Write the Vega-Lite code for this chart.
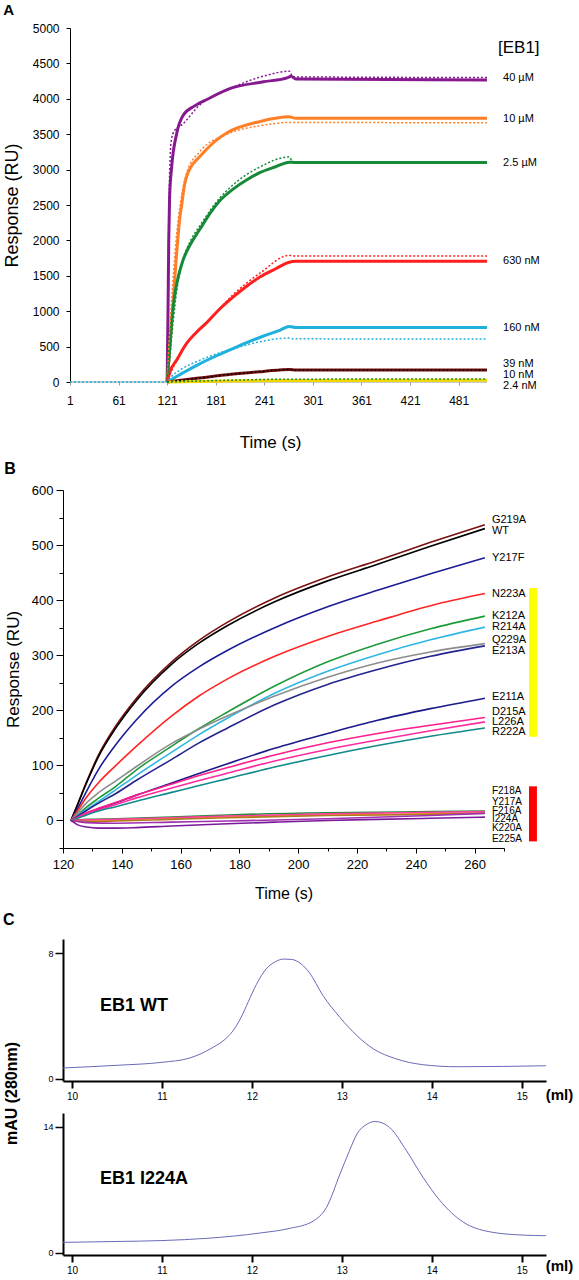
{
  "$schema": "https://vega.github.io/schema/vega-lite/v6.json",
  "background": "white",
  "padding": {"left": 3, "top": 3, "right": 0, "bottom": 0},
  "config": {
    "view": {"stroke": null},
    "font": "Liberation Sans",
    "axis": {"grid": false, "labelColor": "#000", "titleColor": "#000", "domainColor": "#000", "tickColor": "#000", "labelFont": "Liberation Sans", "titleFont": "Liberation Sans", "labelFlush": false, "labelOverlap": false},
    "title": {"font": "Liberation Sans", "fontWeight": "bold", "anchor": "start", "frame": "bounds", "color": "#000"},
    "text": {"font": "Liberation Sans", "color": "#000"}
  },
  "spacing": 11,
  "align": "none",
  "datasets": {
    "A_solid": [
      {"s":"40 µM","t":121,"v":0},{"s":"40 µM","t":122,"v":900},{"s":"40 µM","t":123,"v":2000},{"s":"40 µM","t":124,"v":2600},{"s":"40 µM","t":126.6,"v":3040},{"s":"40 µM","t":132.8,"v":3510},{"s":"40 µM","t":141,"v":3770},{"s":"40 µM","t":155,"v":3900},{"s":"40 µM","t":170,"v":3990},{"s":"40 µM","t":200,"v":4150},{"s":"40 µM","t":240,"v":4240},{"s":"40 µM","t":270,"v":4300},{"s":"40 µM","t":274,"v":4320},{"s":"40 µM","t":280,"v":4280},{"s":"40 µM","t":516,"v":4266},
      {"s":"10 µM","t":121,"v":0},{"s":"10 µM","t":123,"v":300},{"s":"10 µM","t":126,"v":750},{"s":"10 µM","t":128.6,"v":1160},{"s":"10 µM","t":131,"v":1550},{"s":"10 µM","t":134.8,"v":2100},{"s":"10 µM","t":137,"v":2350},{"s":"10 µM","t":139,"v":2500},{"s":"10 µM","t":142,"v":2750},{"s":"10 µM","t":145,"v":2900},{"s":"10 µM","t":150,"v":3030},{"s":"10 µM","t":161,"v":3180},{"s":"10 µM","t":180,"v":3400},{"s":"10 µM","t":195,"v":3520},{"s":"10 µM","t":236,"v":3680},{"s":"10 µM","t":272,"v":3745},{"s":"10 µM","t":280,"v":3725},{"s":"10 µM","t":516,"v":3725},
      {"s":"2.5 µM","t":121,"v":0},{"s":"2.5 µM","t":124,"v":450},{"s":"2.5 µM","t":127,"v":900},{"s":"2.5 µM","t":130,"v":1200},{"s":"2.5 µM","t":135,"v":1500},{"s":"2.5 µM","t":140,"v":1700},{"s":"2.5 µM","t":150,"v":1950},{"s":"2.5 µM","t":161,"v":2150},{"s":"2.5 µM","t":175,"v":2400},{"s":"2.5 µM","t":186,"v":2560},{"s":"2.5 µM","t":202,"v":2720},{"s":"2.5 µM","t":220,"v":2860},{"s":"2.5 µM","t":236,"v":2960},{"s":"2.5 µM","t":255,"v":3040},{"s":"2.5 µM","t":272,"v":3105},{"s":"2.5 µM","t":280,"v":3100},{"s":"2.5 µM","t":516,"v":3100},
      {"s":"630 nM","t":121,"v":0},{"s":"630 nM","t":124.5,"v":146},{"s":"630 nM","t":132.8,"v":311},{"s":"630 nM","t":145,"v":546},{"s":"630 nM","t":157,"v":700},{"s":"630 nM","t":170,"v":840},{"s":"630 nM","t":185,"v":1020},{"s":"630 nM","t":203,"v":1205},{"s":"630 nM","t":220,"v":1360},{"s":"630 nM","t":236,"v":1487},{"s":"630 nM","t":255,"v":1600},{"s":"630 nM","t":270,"v":1685},{"s":"630 nM","t":280,"v":1705},{"s":"630 nM","t":516,"v":1705},
      {"s":"160 nM","t":121,"v":0},{"s":"160 nM","t":130,"v":60},{"s":"160 nM","t":140,"v":125},{"s":"160 nM","t":160,"v":250},{"s":"160 nM","t":180,"v":360},{"s":"160 nM","t":203,"v":476},{"s":"160 nM","t":220,"v":560},{"s":"160 nM","t":240,"v":650},{"s":"160 nM","t":260,"v":730},{"s":"160 nM","t":272,"v":785},{"s":"160 nM","t":280,"v":770},{"s":"160 nM","t":516,"v":770},
      {"s":"39 nM","t":121,"v":0},{"s":"39 nM","t":160,"v":55},{"s":"39 nM","t":200,"v":110},{"s":"39 nM","t":240,"v":150},{"s":"39 nM","t":272,"v":178},{"s":"39 nM","t":280,"v":170},{"s":"39 nM","t":516,"v":170},
      {"s":"2.4 nM","t":121,"v":0},{"s":"2.4 nM","t":200,"v":14},{"s":"2.4 nM","t":272,"v":22},{"s":"2.4 nM","t":516,"v":26}
    ],
    "A_fit": [
      {"s":"40 µM","t":121,"v":0},{"s":"40 µM","t":122,"v":1200},{"s":"40 µM","t":123,"v":2200},{"s":"40 µM","t":124,"v":2900},{"s":"40 µM","t":126,"v":3400},{"s":"40 µM","t":130,"v":3550},{"s":"40 µM","t":140,"v":3640},{"s":"40 µM","t":160,"v":3900},{"s":"40 µM","t":200,"v":4150},{"s":"40 µM","t":240,"v":4320},{"s":"40 µM","t":272,"v":4390},{"s":"40 µM","t":276,"v":4310},{"s":"40 µM","t":516,"v":4300},
      {"s":"10 µM","t":121,"v":0},{"s":"10 µM","t":124,"v":700},{"s":"10 µM","t":128,"v":1400},{"s":"10 µM","t":132,"v":2000},{"s":"10 µM","t":137,"v":2500},{"s":"10 µM","t":145,"v":2950},{"s":"10 µM","t":161,"v":3250},{"s":"10 µM","t":195,"v":3500},{"s":"10 µM","t":236,"v":3620},{"s":"10 µM","t":272,"v":3665},{"s":"10 µM","t":516,"v":3660},
      {"s":"2.5 µM","t":121,"v":0},{"s":"2.5 µM","t":124,"v":300},{"s":"2.5 µM","t":128,"v":800},{"s":"2.5 µM","t":133,"v":1300},{"s":"2.5 µM","t":140,"v":1700},{"s":"2.5 µM","t":150,"v":2000},{"s":"2.5 µM","t":161,"v":2200},{"s":"2.5 µM","t":186,"v":2600},{"s":"2.5 µM","t":202,"v":2780},{"s":"2.5 µM","t":236,"v":3040},{"s":"2.5 µM","t":272,"v":3180},{"s":"2.5 µM","t":276,"v":3100},{"s":"2.5 µM","t":516,"v":3090},
      {"s":"630 nM","t":121,"v":0},{"s":"630 nM","t":125,"v":120},{"s":"630 nM","t":133,"v":300},{"s":"630 nM","t":145,"v":540},{"s":"630 nM","t":170,"v":830},{"s":"630 nM","t":203,"v":1240},{"s":"630 nM","t":236,"v":1540},{"s":"630 nM","t":272,"v":1790},{"s":"630 nM","t":276,"v":1780},{"s":"630 nM","t":516,"v":1780},
      {"s":"160 nM","t":1,"v":0},{"s":"160 nM","t":121,"v":0},{"s":"160 nM","t":125,"v":60},{"s":"160 nM","t":137,"v":170},{"s":"160 nM","t":160,"v":300},{"s":"160 nM","t":180,"v":390},{"s":"160 nM","t":203,"v":470},{"s":"160 nM","t":236,"v":570},{"s":"160 nM","t":272,"v":620},{"s":"160 nM","t":276,"v":610},{"s":"160 nM","t":516,"v":607},
      {"s":"39 nM fit","t":121,"v":0},{"s":"39 nM fit","t":160,"v":55},{"s":"39 nM fit","t":200,"v":108},{"s":"39 nM fit","t":240,"v":150},{"s":"39 nM fit","t":272,"v":176},{"s":"39 nM fit","t":280,"v":168},{"s":"39 nM fit","t":516,"v":168},
      {"s":"10 nM","t":121,"v":0},{"s":"10 nM","t":200,"v":25},{"s":"10 nM","t":272,"v":40},{"s":"10 nM","t":516,"v":42}
    ],
    "B_lines": [
      {"s":"G219A","t":122.7,"v":0},{"s":"G219A","t":125,"v":30},{"s":"G219A","t":128,"v":70},{"s":"G219A","t":132,"v":118},{"s":"G219A","t":138,"v":172},{"s":"G219A","t":145,"v":222},{"s":"G219A","t":157,"v":288},{"s":"G219A","t":166,"v":326},{"s":"G219A","t":176,"v":360},{"s":"G219A","t":192,"v":404},{"s":"G219A","t":210,"v":442},{"s":"G219A","t":227,"v":472},{"s":"G219A","t":245,"v":505},{"s":"G219A","t":263.5,"v":537},
      {"s":"WT","t":122.7,"v":0},{"s":"WT","t":125,"v":29},{"s":"WT","t":128,"v":68},{"s":"WT","t":132,"v":115},{"s":"WT","t":138,"v":168},{"s":"WT","t":145,"v":218},{"s":"WT","t":157,"v":284},{"s":"WT","t":166,"v":321},{"s":"WT","t":176,"v":354},{"s":"WT","t":192,"v":397},{"s":"WT","t":210,"v":435},{"s":"WT","t":227,"v":465},{"s":"WT","t":245,"v":498},{"s":"WT","t":263.5,"v":530},
      {"s":"Y217F","t":122.7,"v":0},{"s":"Y217F","t":125,"v":22},{"s":"Y217F","t":128,"v":53},{"s":"Y217F","t":132,"v":92},{"s":"Y217F","t":138,"v":138},{"s":"Y217F","t":145,"v":183},{"s":"Y217F","t":157,"v":244},{"s":"Y217F","t":166,"v":278},{"s":"Y217F","t":176,"v":309},{"s":"Y217F","t":192,"v":350},{"s":"Y217F","t":210,"v":388},{"s":"Y217F","t":227,"v":418},{"s":"Y217F","t":245,"v":448},{"s":"Y217F","t":263.5,"v":477},
      {"s":"N223A","t":122.7,"v":0},{"s":"N223A","t":125,"v":18},{"s":"N223A","t":128,"v":42},{"s":"N223A","t":132,"v":68},{"s":"N223A","t":138,"v":100},{"s":"N223A","t":145,"v":135},{"s":"N223A","t":157,"v":190},{"s":"N223A","t":166,"v":225},{"s":"N223A","t":176,"v":257},{"s":"N223A","t":192,"v":298},{"s":"N223A","t":210,"v":334},{"s":"N223A","t":227,"v":362},{"s":"N223A","t":245,"v":390},{"s":"N223A","t":263.5,"v":412},
      {"s":"K212A","t":122.7,"v":0},{"s":"K212A","t":125,"v":10},{"s":"K212A","t":128,"v":24},{"s":"K212A","t":132,"v":40},{"s":"K212A","t":138,"v":62},{"s":"K212A","t":145,"v":92},{"s":"K212A","t":157,"v":135},{"s":"K212A","t":166,"v":166},{"s":"K212A","t":176,"v":197},{"s":"K212A","t":192,"v":244},{"s":"K212A","t":210,"v":288},{"s":"K212A","t":227,"v":320},{"s":"K212A","t":245,"v":348},{"s":"K212A","t":263.5,"v":371},
      {"s":"R214A","t":122.7,"v":0},{"s":"R214A","t":125,"v":9},{"s":"R214A","t":128,"v":20},{"s":"R214A","t":132,"v":34},{"s":"R214A","t":138,"v":56},{"s":"R214A","t":145,"v":82},{"s":"R214A","t":157,"v":124},{"s":"R214A","t":166,"v":155},{"s":"R214A","t":176,"v":186},{"s":"R214A","t":192,"v":231},{"s":"R214A","t":210,"v":271},{"s":"R214A","t":227,"v":301},{"s":"R214A","t":245,"v":328},{"s":"R214A","t":263.5,"v":351},
      {"s":"Q229A","t":122.7,"v":0},{"s":"Q229A","t":125,"v":14},{"s":"Q229A","t":128,"v":32},{"s":"Q229A","t":132,"v":50},{"s":"Q229A","t":138,"v":72},{"s":"Q229A","t":145,"v":98},{"s":"Q229A","t":157,"v":140},{"s":"Q229A","t":166,"v":165},{"s":"Q229A","t":176,"v":190},{"s":"Q229A","t":192,"v":226},{"s":"Q229A","t":210,"v":260},{"s":"Q229A","t":227,"v":286},{"s":"Q229A","t":245,"v":306},{"s":"Q229A","t":263.5,"v":321},
      {"s":"E213A","t":122.7,"v":0},{"s":"E213A","t":125,"v":8},{"s":"E213A","t":128,"v":18},{"s":"E213A","t":132,"v":31},{"s":"E213A","t":138,"v":49},{"s":"E213A","t":145,"v":73},{"s":"E213A","t":157,"v":111},{"s":"E213A","t":166,"v":140},{"s":"E213A","t":176,"v":168},{"s":"E213A","t":192,"v":210},{"s":"E213A","t":210,"v":247},{"s":"E213A","t":227,"v":274},{"s":"E213A","t":245,"v":298},{"s":"E213A","t":263.5,"v":317},
      {"s":"E211A","t":122.7,"v":0},{"s":"E211A","t":125,"v":6},{"s":"E211A","t":128,"v":13},{"s":"E211A","t":132,"v":21},{"s":"E211A","t":138,"v":32},{"s":"E211A","t":145,"v":46},{"s":"E211A","t":157,"v":68},{"s":"E211A","t":166,"v":85},{"s":"E211A","t":176,"v":103},{"s":"E211A","t":192,"v":131},{"s":"E211A","t":210,"v":158},{"s":"E211A","t":227,"v":182},{"s":"E211A","t":245,"v":203},{"s":"E211A","t":263.5,"v":222},
      {"s":"D215A","t":122.7,"v":0},{"s":"D215A","t":125,"v":6},{"s":"D215A","t":128,"v":14},{"s":"D215A","t":132,"v":22},{"s":"D215A","t":138,"v":33},{"s":"D215A","t":145,"v":46},{"s":"D215A","t":157,"v":66},{"s":"D215A","t":166,"v":81},{"s":"D215A","t":176,"v":96},{"s":"D215A","t":192,"v":119},{"s":"D215A","t":210,"v":141},{"s":"D215A","t":227,"v":158},{"s":"D215A","t":245,"v":173},{"s":"D215A","t":263.5,"v":187},
      {"s":"L226A","t":122.7,"v":0},{"s":"L226A","t":125,"v":5},{"s":"L226A","t":128,"v":12},{"s":"L226A","t":132,"v":19},{"s":"L226A","t":138,"v":29},{"s":"L226A","t":145,"v":41},{"s":"L226A","t":157,"v":59},{"s":"L226A","t":166,"v":72},{"s":"L226A","t":176,"v":86},{"s":"L226A","t":192,"v":108},{"s":"L226A","t":210,"v":129},{"s":"L226A","t":227,"v":146},{"s":"L226A","t":245,"v":163},{"s":"L226A","t":263.5,"v":179},
      {"s":"R222A","t":122.7,"v":0},{"s":"R222A","t":125,"v":4},{"s":"R222A","t":128,"v":10},{"s":"R222A","t":132,"v":17},{"s":"R222A","t":138,"v":25},{"s":"R222A","t":145,"v":35},{"s":"R222A","t":157,"v":51},{"s":"R222A","t":166,"v":63},{"s":"R222A","t":176,"v":76},{"s":"R222A","t":192,"v":97},{"s":"R222A","t":210,"v":118},{"s":"R222A","t":227,"v":136},{"s":"R222A","t":245,"v":153},{"s":"R222A","t":263.5,"v":168},
      {"s":"F218A","t":122.7,"v":0},{"s":"F218A","t":128,"v":2},{"s":"F218A","t":138,"v":3},{"s":"F218A","t":157,"v":6},{"s":"F218A","t":176,"v":10},{"s":"F218A","t":210,"v":14},{"s":"F218A","t":245,"v":16},{"s":"F218A","t":263.5,"v":17},
      {"s":"Y217A","t":122.7,"v":0},{"s":"Y217A","t":128,"v":-1},{"s":"Y217A","t":138,"v":1},{"s":"Y217A","t":157,"v":4},{"s":"Y217A","t":176,"v":7},{"s":"Y217A","t":210,"v":10},{"s":"Y217A","t":245,"v":12},{"s":"Y217A","t":263.5,"v":14},
      {"s":"F216A","t":122.7,"v":0},{"s":"F216A","t":128,"v":1},{"s":"F216A","t":138,"v":2},{"s":"F216A","t":157,"v":5},{"s":"F216A","t":176,"v":8},{"s":"F216A","t":210,"v":12},{"s":"F216A","t":245,"v":15},{"s":"F216A","t":263.5,"v":16},
      {"s":"I224A","t":122.7,"v":0},{"s":"I224A","t":128,"v":-2},{"s":"I224A","t":138,"v":-1},{"s":"I224A","t":157,"v":2},{"s":"I224A","t":176,"v":5},{"s":"I224A","t":210,"v":9},{"s":"I224A","t":245,"v":11},{"s":"I224A","t":263.5,"v":13},
      {"s":"K220A","t":122.7,"v":0},{"s":"K220A","t":125,"v":-2},{"s":"K220A","t":128,"v":-4},{"s":"K220A","t":138,"v":-5},{"s":"K220A","t":157,"v":-3},{"s":"K220A","t":176,"v":-1},{"s":"K220A","t":210,"v":3},{"s":"K220A","t":245,"v":9},{"s":"K220A","t":263.5,"v":13},
      {"s":"E225A","t":122.7,"v":0},{"s":"E225A","t":125,"v":-8},{"s":"E225A","t":128,"v":-12},{"s":"E225A","t":132,"v":-14},{"s":"E225A","t":138,"v":-14},{"s":"E225A","t":145,"v":-13},{"s":"E225A","t":157,"v":-10},{"s":"E225A","t":176,"v":-6},{"s":"E225A","t":192,"v":-3},{"s":"E225A","t":210,"v":0},{"s":"E225A","t":227,"v":2},{"s":"E225A","t":245,"v":4},{"s":"E225A","t":263.5,"v":6}
    ]
  },
  "vconcat": [
    {
      "title": {"text": "A", "fontSize": 15, "offset": 4},
      "width": 424,
      "height": 354,
      "encoding": {
        "x": {"field": "t", "type": "quantitative", "scale": {"domain": [-7.6, 516], "nice": false, "zero": false},
          "axis": {"title": "Time (s)", "values": [1, 61, 121, 181, 241, 301, 361, 421, 481], "format": "d", "domain": false, "labelFontSize": 12, "titleFontSize": 17, "titleFontWeight": "normal", "titlePadding": 28, "tickSize": 3, "labelPadding": 10, "tickColor": "#999", "titleX": 207}},
        "y": {"field": "v", "type": "quantitative", "scale": {"domain": [0, 5000], "nice": false},
          "axis": {"title": "Response (RU)", "offset": -7, "values": [0, 500, 1000, 1500, 2000, 2500, 3000, 3500, 4000, 4500, 5000], "format": "d", "labelFontSize": 12, "titleFontSize": 18, "titleFontWeight": "normal", "tickSize": 4, "labelPadding": 7, "titlePadding": 11}}
      },
      "layer": [
        {"data": {"values": [{"t": 1, "t2": 516, "v": 0}]}, "mark": {"type": "rule", "color": "#999", "strokeWidth": 1},
          "encoding": {"x2": {"field": "t2"}}},
        {"data": {"name": "A_solid"}, "mark": {"type": "line", "strokeWidth": 3, "interpolate": "monotone"},
          "encoding": {"color": {"field": "s", "type": "nominal", "legend": null,
            "scale": {"domain": ["40 µM", "10 µM", "2.5 µM", "630 nM", "160 nM", "39 nM", "10 nM", "2.4 nM", "39 nM fit"], "range": ["#86198f", "#ff7f27", "#178a3a", "#ff1f1f", "#1fb0dc", "#7a1010", "#2a8a2a", "#f0d800", "#000000"]}}}},
        {"data": {"name": "A_fit"}, "mark": {"type": "line", "strokeWidth": 1.5, "strokeDash": [2, 2], "interpolate": "monotone"},
          "encoding": {"color": {"field": "s", "type": "nominal", "legend": null}}},
        {"data": {"values": [
            {"t": 535.8, "v": 4294, "label": "40 µM"}, {"t": 535.8, "v": 3715, "label": "10 µM"}, {"t": 535.8, "v": 3093, "label": "2.5 µM"},
            {"t": 535.8, "v": 1709, "label": "630 nM"}, {"t": 535.8, "v": 763, "label": "160 nM"}, {"t": 535.8, "v": 258, "label": "39 nM"},
            {"t": 535.8, "v": 99, "label": "10 nM"}, {"t": 535.8, "v": -56, "label": "2.4 nM"}]},
          "mark": {"type": "text", "align": "left", "baseline": "middle", "fontSize": 11},
          "encoding": {"text": {"field": "label"}}},
        {"data": {"values": [{"t": 529.6, "v": 4718, "label": "[EB1]"}]},
          "mark": {"type": "text", "align": "left", "baseline": "middle", "fontSize": 17},
          "encoding": {"text": {"field": "label"}}}
      ]
    },
    {
      "title": {"text": "B", "fontSize": 16, "offset": 7},
      "width": 441,
      "height": 358,
      "encoding": {
        "x": {"field": "t", "type": "quantitative", "scale": {"domain": [120, 270], "nice": false, "zero": false},
          "axis": {"title": "Time (s)", "values": [120, 130, 140, 150, 160, 170, 180, 190, 200, 210, 220, 230, 240, 250, 260, 270], "labelExpr": "datum.value % 20 === 0 ? datum.label : ''", "tickSize": {"condition": {"test": "datum.value % 20 === 0", "value": 5}, "value": 3}, "labelFontSize": 13, "labelPadding": 5, "titleFontSize": 16, "titleFontWeight": "normal", "titlePadding": 14}},
        "y": {"field": "v", "type": "quantitative", "scale": {"domain": [-50, 600], "nice": false, "zero": false},
          "axis": {"title": "Response (RU)", "values": [-50, 0, 50, 100, 150, 200, 250, 300, 350, 400, 450, 500, 550, 600], "labelExpr": "datum.value % 100 === 0 ? datum.label : ''", "tickSize": {"condition": {"test": "datum.value % 100 === 0", "value": 7}, "value": 4}, "labelFontSize": 13, "labelPadding": 3, "titleFontSize": 17, "titleFontWeight": "normal", "titlePadding": 9}}
      },
      "resolve": {"scale": {"color": "independent"}},
      "layer": [
        {"data": {"name": "B_lines"}, "mark": {"type": "line", "strokeWidth": 1.6, "interpolate": "monotone"},
          "encoding": {"color": {"field": "s", "type": "nominal", "legend": null,
            "scale": {"domain": ["G219A", "WT", "Y217F", "N223A", "K212A", "R214A", "Q229A", "E213A", "E211A", "D215A", "L226A", "R222A", "F218A", "Y217A", "F216A", "I224A", "K220A", "E225A"],
              "range": ["#7a1010", "#000000", "#1c1c94", "#ff2424", "#1f9a3a", "#2fb6e2", "#8c8c8c", "#24248f", "#1a1a8a", "#ff1e8c", "#ff2aa0", "#138a8a", "#1f8f3a", "#ff9a1a", "#ff40a0", "#b07a20", "#a030b0", "#7a1a9a"]}}}},
        {"data": {"values": [
            {"t": 265.9, "v": 545, "label": "G219A"}, {"t": 265.9, "v": 525, "label": "WT"}, {"t": 265.9, "v": 476, "label": "Y217F"},
            {"t": 265.9, "v": 411, "label": "N223A"}, {"t": 265.9, "v": 371, "label": "K212A"}, {"t": 265.9, "v": 351, "label": "R214A"},
            {"t": 265.9, "v": 328, "label": "Q229A"}, {"t": 265.9, "v": 308, "label": "E213A"}, {"t": 265.9, "v": 225, "label": "E211A"},
            {"t": 265.9, "v": 197, "label": "D215A"}, {"t": 265.9, "v": 179, "label": "L226A"}, {"t": 265.9, "v": 161, "label": "R222A"}]},
          "mark": {"type": "text", "align": "left", "baseline": "middle", "fontSize": 11},
          "encoding": {"text": {"field": "label"}}},
        {"data": {"values": [
            {"t": 265.9, "v": 53, "label": "F218A"}, {"t": 265.9, "v": 34, "label": "Y217A"}, {"t": 265.9, "v": 18, "label": "F216A"},
            {"t": 265.9, "v": 2, "label": "I224A"}, {"t": 265.9, "v": -14, "label": "K220A"}, {"t": 265.9, "v": -33, "label": "E225A"}]},
          "mark": {"type": "text", "align": "left", "baseline": "middle", "fontSize": 10},
          "encoding": {"text": {"field": "label"}}},
        {"data": {"values": [
            {"t": 278.5, "t2": 281.2, "v": 422, "v2": 152, "c": "a"},
            {"t": 278.5, "t2": 281.2, "v": 62, "v2": -38, "c": "b"}]},
          "mark": {"type": "rect"},
          "encoding": {"x2": {"field": "t2"}, "y2": {"field": "v2"},
            "color": {"field": "c", "type": "nominal", "legend": null, "scale": {"domain": ["a", "b"], "range": ["#ffff00", "#ff0000"]}}}}
      ]
    },
    {
      "spacing": 32,
      "bounds": "flush",
      "vconcat": [
        {
          "title": {"text": "C", "fontSize": 16, "offset": 11},
          "width": 483,
          "height": 142,
          "encoding": {
            "x": {"field": "x", "type": "quantitative", "scale": {"domain": [9.9, 15.27], "nice": false, "zero": false},
              "axis": {"title": null, "values": [10, 11, 12, 13, 14, 15], "format": "d", "labelFontSize": 10, "tickSize": 7, "tickWidth": 2, "domainWidth": 2, "labelPadding": 3}},
            "y": {"field": "v", "type": "quantitative", "scale": {"domain": [-0.15, 8.9], "nice": false, "zero": false},
              "axis": {"title": "mAU (280nm)", "values": [0, 8], "format": "d", "labelFontSize": 9, "tickSize": 8, "tickWidth": 1.5, "domainWidth": 2, "labelPadding": 2, "titleFontSize": 16, "titleFontWeight": "bold", "titleX": -44, "titleY": 154}}
          },
          "layer": [
            {"data": {"values": [
                {"x": 9.9, "v": 0.68}, {"x": 10.5, "v": 0.85}, {"x": 11, "v": 1.04}, {"x": 11.3, "v": 1.3}, {"x": 11.57, "v": 2.0}, {"x": 11.7, "v": 2.5},
                {"x": 11.79, "v": 3.05}, {"x": 11.88, "v": 3.9}, {"x": 11.96, "v": 4.9}, {"x": 12.05, "v": 6.0}, {"x": 12.16, "v": 7.0}, {"x": 12.26, "v": 7.45},
                {"x": 12.35, "v": 7.62}, {"x": 12.44, "v": 7.6}, {"x": 12.55, "v": 7.3}, {"x": 12.64, "v": 6.75}, {"x": 12.79, "v": 5.3}, {"x": 12.98, "v": 3.9},
                {"x": 13.17, "v": 2.73}, {"x": 13.35, "v": 1.9}, {"x": 13.6, "v": 1.27}, {"x": 13.9, "v": 0.89}, {"x": 14.28, "v": 0.76}, {"x": 14.8, "v": 0.78}, {"x": 15.27, "v": 0.82}]},
              "mark": {"type": "line", "strokeWidth": 1, "color": "#6a6ab8", "interpolate": "monotone"}},
            {"data": {"values": [{"x": 10.31, "v": 4.63, "label": "EB1 WT"}]},
              "mark": {"type": "text", "align": "left", "baseline": "middle", "fontSize": 18, "fontWeight": "bold"},
              "encoding": {"text": {"field": "label"}}},
            {"data": {"values": [{"x": 15.42, "v": -1.05, "label": "(ml)"}]},
              "mark": {"type": "text", "align": "center", "baseline": "middle", "fontSize": 15, "fontWeight": "bold"},
              "encoding": {"text": {"field": "label"}}}
          ]
        },
        {
          "width": 483,
          "height": 142,
          "encoding": {
            "x": {"field": "x", "type": "quantitative", "scale": {"domain": [9.9, 15.27], "nice": false, "zero": false},
              "axis": {"title": null, "values": [10, 11, 12, 13, 14, 15], "format": "d", "labelFontSize": 10, "tickSize": 7, "tickWidth": 2, "domainWidth": 2, "labelPadding": 3}},
            "y": {"field": "v", "type": "quantitative", "scale": {"domain": [-0.25, 15.5], "nice": false, "zero": false},
              "axis": {"title": null, "values": [0, 14], "format": "d", "labelFontSize": 9, "tickSize": 8, "tickWidth": 1.5, "domainWidth": 2, "labelPadding": 2}}
          },
          "layer": [
            {"data": {"values": [
                {"x": 9.9, "v": 1.15}, {"x": 10.5, "v": 1.25}, {"x": 11, "v": 1.35}, {"x": 11.5, "v": 1.6}, {"x": 11.8, "v": 1.85}, {"x": 12.1, "v": 2.2},
                {"x": 12.42, "v": 2.7}, {"x": 12.68, "v": 3.5}, {"x": 12.83, "v": 5.04}, {"x": 12.98, "v": 8.74}, {"x": 13.08, "v": 11.2}, {"x": 13.17, "v": 13.2},
                {"x": 13.27, "v": 14.2}, {"x": 13.37, "v": 14.56}, {"x": 13.45, "v": 14.4}, {"x": 13.53, "v": 13.9}, {"x": 13.72, "v": 11.3}, {"x": 13.9, "v": 8.4},
                {"x": 14.09, "v": 5.8}, {"x": 14.35, "v": 3.4}, {"x": 14.64, "v": 2.33}, {"x": 15.01, "v": 1.96}, {"x": 15.27, "v": 1.89}]},
              "mark": {"type": "line", "strokeWidth": 1, "color": "#6a6ab8", "interpolate": "monotone"}},
            {"data": {"values": [{"x": 10.31, "v": 8.2, "label": "EB1 I224A"}]},
              "mark": {"type": "text", "align": "left", "baseline": "middle", "fontSize": 18, "fontWeight": "bold"},
              "encoding": {"text": {"field": "label"}}},
            {"data": {"values": [{"x": 15.42, "v": -1.5, "label": "(ml)"}]},
              "mark": {"type": "text", "align": "center", "baseline": "middle", "fontSize": 15, "fontWeight": "bold"},
              "encoding": {"text": {"field": "label"}}}
          ]
        }
      ]
    }
  ]
}
